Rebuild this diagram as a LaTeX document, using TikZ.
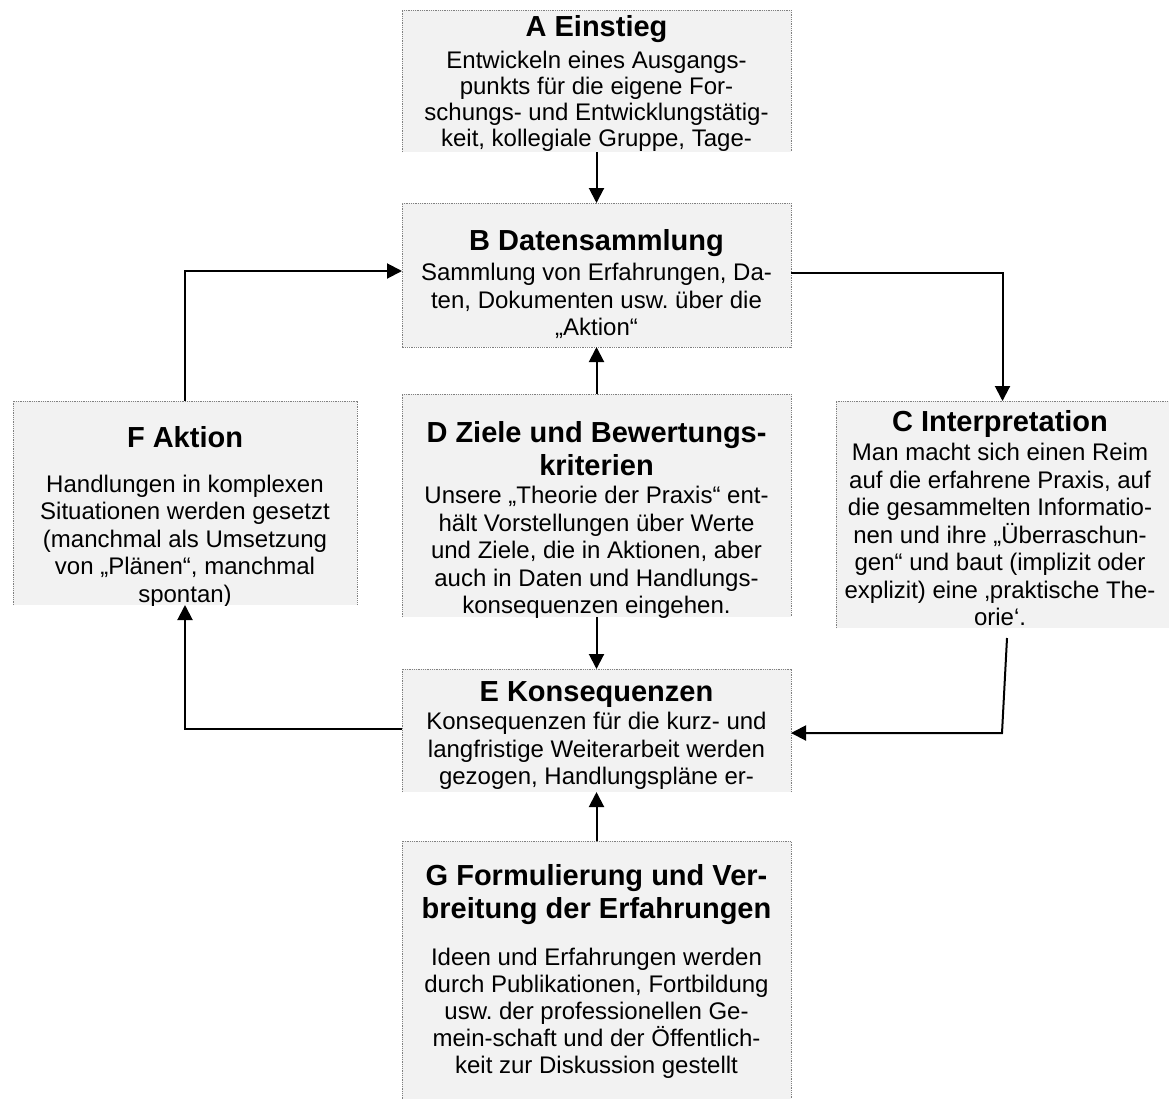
\documentclass[tikz,border=0pt]{standalone}
\usepackage{fontspec}
\setmainfont{Liberation Sans}
\usetikzlibrary{arrows.meta}
\definecolor{boxgray}{HTML}{F2F2F2}
\definecolor{dotgray}{HTML}{808080}
\newcommand\hdfont{\fontsize{29}{33.5}\selectfont\bfseries\spaceskip=0.278em\relax\xspaceskip=0.278em\relax}
\newcommand\boxcontent[4]{\lineskiplimit=-100pt\relax
  {\hdfont\rule{0pt}{28pt}#1\par}\vspace{#2}{\fontsize{24}{#3}\selectfont\spaceskip=0.278em\relax\xspaceskip=0.278em\relax #4\par}}
\tikzset{
  panel/.style={fill=boxgray, draw=none, inner sep=0pt, outer sep=0pt},
  edge3/.style={draw=dotgray, line width=0.9pt, dash pattern=on 0.9pt off 0.9pt},
  txt/.style={inner sep=0pt, outer sep=0pt, align=center, anchor=north},
  conn/.style={draw=black, line width=2pt, -{Triangle[length=15pt,width=15pt]}}
}
\begin{document}
\begin{tikzpicture}[x=1pt,y=-1pt]
\path[use as bounding box, clip] (0,0) rectangle (1169,1098);

% boxes
\node[panel, minimum width=389pt, minimum height=142pt] (A) at (596.5,81) {};
\node[panel, minimum width=389pt, minimum height=144pt] (B) at (596.5,275) {};
\node[panel, minimum width=389pt, minimum height=223pt] (D) at (596.5,505.5) {};
\node[panel, minimum width=389pt, minimum height=123pt] (E) at (596.5,730.5) {};
\node[panel, minimum width=389pt, minimum height=269pt] (G) at (596.5,975.5) {};
\node[panel, minimum width=344pt, minimum height=204pt] (F) at (185,503) {};
\node[panel, minimum width=333pt, minimum height=227pt] (C) at (1002.5,514.5) {};

% borders
\draw[edge3] (A.south west) -- (A.north west) -- (A.north east) -- (A.south east);
\draw[edge3] (B.south west) rectangle (B.north east);
\draw[edge3] (D.south west) -- (D.north west) -- (D.north east) -- (D.south east);
\draw[edge3] (E.south west) -- (E.north west) -- (E.north east) -- (E.south east);
\draw[edge3] (G.south west) -- (G.north west) -- (G.north east) -- (G.south east);
\draw[edge3] (F.south west) -- (F.north west) -- (F.north east) -- (F.south east);
\draw[edge3] (C.south west) -- (C.north west) -- (C.north east);

% texts
\begin{scope}
\clip (A.south west) rectangle (A.north east);
\node[txt, text width=385pt] (At) at (596.5,8) {\boxcontent{A Einstieg}{6pt}{26pt}{Entwickeln eines Ausgangs-\\punkts für die eigene For-\\schungs- und Entwicklungstätig-\\keit, kollegiale Gruppe, Tage-}};
\end{scope}

\node[txt, text width=385pt] (Bt) at (596.5,222) {\boxcontent{B Datensammlung}{3pt}{27.5pt}{Sammlung von Erfahrungen, Da-\\ten, Dokumenten usw. über die\\„Aktion“}};

\begin{scope}
\clip (C.south west) rectangle (C.north east);
\node[txt, text width=333pt] (Ct) at (1000,403) {\boxcontent{C Interpretation}{2pt}{27.5pt}{Man macht sich einen Reim\\auf die erfahrene Praxis, auf\\die gesammelten Informatio-\\nen und ihre „Überraschun-\\gen“ und baut (implizit oder\\explizit) eine ‚praktische The-\\orie‘.}};
\end{scope}

\begin{scope}
\clip (D.south west) rectangle (D.north east);
\node[txt, text width=385pt] (Dt) at (596.5,414) {\boxcontent{D Ziele und Bewertungs-\\kriterien}{0.5pt}{27.5pt}{Unsere „Theorie der Praxis“ ent-\\hält Vorstellungen über Werte\\und Ziele, die in Aktionen, aber\\auch in Daten und Handlungs-\\konsequenzen eingehen.}};
\end{scope}

\begin{scope}
\clip (E.south west) rectangle (E.north east);
\node[txt, text width=385pt] (Et) at (596.5,673) {\boxcontent{E Konsequenzen}{1pt}{27.5pt}{Konsequenzen für die kurz- und\\langfristige Weiterarbeit werden\\gezogen, Handlungspläne er-}};
\end{scope}

\begin{scope}
\clip (F.south west) rectangle (F.north east);
\node[txt, text width=340pt] (Ft) at (185,419) {\boxcontent{F Aktion}{17.5pt}{27.5pt}{Handlungen in komplexen\\Situationen werden gesetzt\\(manchmal als Umsetzung\\von „Plänen“, manchmal\\spontan)}};
\end{scope}

\node[txt, text width=385pt] (Gt) at (596.5,857) {\boxcontent{G Formulierung und Ver-\\breitung der Erfahrungen}{19.5pt}{27pt}{Ideen und Erfahrungen werden\\durch Publikationen, Fortbildung\\usw. der professionellen Ge-\\mein-schaft und der Öffentlich-\\keit zur Diskussion gestellt}};

% connectors
\coordinate (c1) at (1007,638);
\coordinate (c2) at (1002,733);
\draw[conn] (A.south) -- (B.north);
\draw[conn] (D.north) -- (B.south);
\draw[conn] (D.south) -- (E.north);
\draw[conn] (G.north) -- (E.south);
\draw[conn] ([yshift=2pt]B.east) -| (C.north);
\draw[conn] (F.north) |- ([yshift=4pt]B.west);
\draw[conn] ([yshift=1.5pt]E.west) -| (F.south);
\draw[conn] (c1) -- (c2) -- (c2 -| E.east);
\end{tikzpicture}
\end{document}
